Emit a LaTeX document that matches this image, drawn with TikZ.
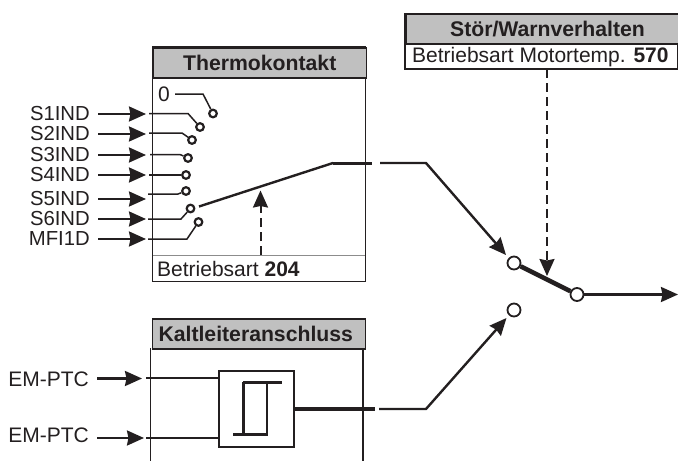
\documentclass[tikz,border=0pt]{standalone}
\usepackage{fontspec}
\setmainfont{Liberation Sans}
\usetikzlibrary{arrows.meta}
\definecolor{ink}{HTML}{231F20}
\definecolor{headgray}{HTML}{C0C0C0}
\definecolor{rulegray}{HTML}{8C8C8C}
\tikzset{
  x=1pt,y=-1pt,
  txt/.style={font=\fontsize{21}{25}\selectfont,text=ink,inner sep=0pt},
  header/.style={draw=ink,line width=1.5pt,fill=headgray,anchor=north west,inner sep=0pt,
    font=\fontsize{21.2}{25}\selectfont\bfseries,text=ink},
  inlabel/.style={txt,anchor=east,inner xsep=8pt},
  frame/.style={draw=ink,line width=1.5pt},
  thin wire/.style={draw=ink,line width=1.5pt},
  wire/.style={draw=ink,line width=2.4pt},
  thick wire/.style={draw=ink,line width=4.5pt},
  head/.style={-{Stealth[length=17pt,width=15pt,inset=1.5pt]}},
  arrowwire/.style={wire,head},
  dashwire/.style={draw=ink,line width=2pt,dash pattern=on 9pt off 5pt,head},
  smallcontact/.style={circle,draw=ink,line width=2.2pt,fill=white,inner sep=0pt,minimum size=7.6pt},
  bigcontact/.style={circle,draw=ink,line width=1.8pt,fill=white,inner sep=0pt,minimum size=13pt},
}
\begin{document}
\begin{tikzpicture}
\useasboundingbox (0,0) rectangle (678,461);
% Thermokontakt block
\draw[frame,fill=white] (152.5,47) rectangle (365.5,281.5);
\node[header,minimum width=213pt,minimum height=30pt] (thhead) at (152.5,47) {Thermokontakt};
\draw[rulegray,line width=1.2pt] (153,255.5) -- (365,255.5);
\node[txt,anchor=west] (bta) at (157,269) {Betriebsart \textbf{204}};
\node[txt,anchor=center] (zero) at (164,94) {0};
% inputs
\foreach \n/\t/\y/\tip in {s1/S1IND/114/146,s2/S2IND/134/146,s3/S3IND/155/146,s4/S4IND/175/146,s5/S5IND/199/146,s6/S6IND/219/146,m1/MFI1D/239/146}{
  \node[inlabel,font=\fontsize{20.3}{25}\selectfont] (\n) at (98,\y) {\t};
  \coordinate (\n t) at (\tip,\y);
  \draw[arrowwire] (\n.east) -- (\n t);
}
% contacts
\node[smallcontact] (c0) at (213,113.5) {};
\node[smallcontact] (c1) at (200,127) {};
\node[smallcontact] (c2) at (192,140) {};
\node[smallcontact] (c3) at (188,158) {};
\node[smallcontact] (c4) at (186,175) {};
\node[smallcontact] (c5) at (186,191) {};
\node[smallcontact] (c6) at (190.5,208.5) {};
\node[smallcontact] (c7) at (198.5,222) {};
\draw[thin wire] (175,94) -- (203,94) -- (c0);
\draw[thin wire] (149,113.5) -- (188,113.5) -- (c1);
\draw[thin wire] (149,133) -- (182,133) -- (c2);
\draw[thin wire] (150,154.5) -- (180,154.5) -- (c3);
\draw[thin wire] (149,175) -- (c4);
\draw[thin wire] (148,194) -- (178,194) -- (c5);
\draw[thin wire] (148,219) -- (181,219) -- (c6);
\draw[thin wire] (148,239) -- (187,239) -- (c7);
% selector output
\coordinate (thout) at (372,163);
\draw[wire] (199,206.5) -- (333,163);
\draw[line width=3pt,draw=ink] (333,163) -- (thout);
\coordinate (thsel) at (260.5,190.5);
\coordinate (btasrc) at (260.5,255);
\draw[dashwire] (btasrc) -- (thsel);
% Stoer box
\draw[frame,fill=white] (405,13.5) rectangle (677.5,69);
\node[header,minimum width=272.5pt,minimum height=29.5pt] (sthead) at (405,13.5) {\hspace*{11pt}Stör/Warnverhalten};
\node[txt,anchor=west] (stb) at (412,57) {Betriebsart Motortemp. \textbf{570}};
% main switch
\node[bigcontact] (a) at (514,263) {};
\node[bigcontact] (b) at (514,310) {};
\node[bigcontact] (q) at (577,294.5) {};
\draw[thick wire] (a) -- (q);
\coordinate (stsrc) at (547,69);
\coordinate (sttip) at (547,276);
\draw[dashwire] (stsrc) -- (sttip);
\coordinate (outend) at (678,294.5);
\draw[arrowwire] (q) -- (outend);
\coordinate (aentry) at (506,255);
\coordinate (bentry) at (506.5,318);
\draw[arrowwire] (380,163) -- (426,163) -- (aentry);
% Kaltleiter block
\draw[frame] (150.5,348) -- (150.5,461);
\draw[frame] (363,348) -- (363,461);
\node[header,minimum width=213pt,minimum height=30pt] (kahead) at (151.5,318) {Kaltleiteranschluss\hspace*{6pt}};
\node[inner sep=0pt,draw=ink,line width=1.6pt,fill=white,minimum width=75pt,minimum height=76pt,anchor=north west] (hyst) at (218,370) {};
\draw[line width=2.4pt,draw=ink] (243.5,433.5) -- (243.5,382) (267,382) -- (267,433.5);
\draw[line width=3pt,draw=ink] (243,382) -- (282,382) (233,434) -- (267.5,434);
\node[inlabel] (em1) at (97,379) {EM-PTC};
\node[inlabel] (em2) at (97,435) {EM-PTC};
\coordinate (em1t) at (142,378.5);
\coordinate (em2t) at (144,438);
\draw[arrowwire] (em1.east |- em1t) -- (em1t);
\draw[arrowwire] (em2.east |- em2t) -- (em2t);
\draw[thin wire] (146,378) -- (hyst.west |- 0,378);
\draw[thin wire] (146,438) -- (hyst.west |- 0,438);
\coordinate (hout) at (375,409);
\draw[thick wire] (295,409) -- (hout);
\draw[arrowwire] (379,409) -- (426,409) -- (bentry);
\end{tikzpicture}
\end{document}
